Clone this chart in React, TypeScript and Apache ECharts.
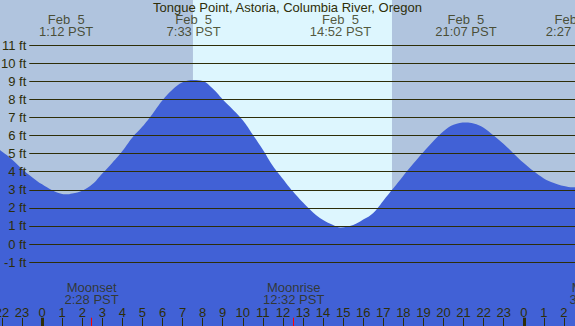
import { useEffect, useRef } from "react";
import * as echarts from "echarts";

// ---- data ----
const TITLE = "Tongue Point, Astoria, Columbia River, Oregon";

// tide height (ft) against hours since Feb 5 00:00 PST
const tideHours = [
  -2.1, -1.5, -1, -0.5, 0, 0.5, 1, 1.2, 1.5, 2, 2.5, 3, 3.5, 4, 4.5, 5, 5.5, 6,
  6.5, 7, 7.55, 8, 8.5, 9, 9.5, 10, 10.5, 11, 11.5, 12, 12.5, 13, 13.5, 14,
  14.5, 14.87, 15.5, 16, 16.5, 17, 17.5, 18, 18.5, 19, 19.5, 20, 20.5, 21.12,
  21.5, 22, 22.5, 23, 23.5, 24, 24.5, 25, 25.5, 26, 26.45, 26.6,
];
const tideFeet = [
  5.2, 4.68, 4.15, 3.7, 3.3, 2.98, 2.77, 2.75, 2.8, 2.95, 3.3, 3.9, 4.5, 5.15,
  5.9, 6.5, 7.2, 7.95, 8.55, 8.95, 9.08, 9.02, 8.6, 8.0, 7.45, 6.85, 6.05,
  5.22, 4.32, 3.6, 2.9, 2.29, 1.75, 1.33, 1.05, 0.92, 1.05, 1.35, 1.72, 2.4,
  3.08, 3.78, 4.45, 5.09, 5.7, 6.24, 6.6, 6.73, 6.67, 6.44, 6.0, 5.53, 5.0,
  4.48, 4.02, 3.63, 3.38, 3.21, 3.14, 3.15,
];

// high / low water labels
const extremeDates = ["Feb  5", "Feb  5", "Feb  5", "Feb  5", "Feb  6"];
const extremeTimes = ["1:12", "7:33", "14:52", "21:07", "2:27"];
const extremeDayOffset = [0, 0, 0, 0, 1];

// moon events
const moonEvents = ["Moonset", "Moonrise", "Moonset"];
const moonTimes = ["2:28", "12:32", "3:38"];
const moonDayOffset = [0, 0, 1];

// daylight
const sunriseTime = "7:31";
const sunsetTime = "17:26";

// gridline levels (ft)
const feetTicks = { min: -1, max: 11, step: 1 };
// hour ticks shown along the bottom
const hourTickValues = [
  -2, -1, 0, 1, 2, 3, 4, 5, 6, 7, 8, 9, 10, 11, 12, 13, 14, 15, 16, 17, 18, 19,
  20, 21, 22, 23, 24, 25, 26,
];
const midnightHours = [0, 24];

// ---- styles / layout ----
const NIGHT = "#b0c4de";
const DAY = "#ddf6fe";
const WATER = "#4161d6";
const INK = "#2e2e08";
const FONT = "'Liberation Sans', Arial, sans-serif";
const FS = 13;

const W = 575;
const H = 326;
const PX_PER_FT = 18.07;
const ZERO_FT_Y = 244;
const PX_PER_HOUR = 20.07;
const ZERO_HOUR_X = 42.1;
const Y_MAX = ZERO_FT_Y / PX_PER_FT;
const Y_MIN = -(H - ZERO_FT_Y) / PX_PER_FT;
const X_MIN = -ZERO_HOUR_X / PX_PER_HOUR;
const X_MAX = (W - ZERO_HOUR_X) / PX_PER_HOUR;
const EXTREME_LABEL_FT = (ZERO_FT_Y - 25.5) / PX_PER_FT;
const MOON_LABEL_FT = (ZERO_FT_Y - 293.5) / PX_PER_FT;
const TICK_TOP_FT = (ZERO_FT_Y - 317.7) / PX_PER_FT;

const toHour = (t: string, off: number) => {
  const [h, m] = t.split(":").map(Number);
  return off * 24 + h + m / 60;
};

export default function App() {
  const ref = useRef<HTMLDivElement>(null);
  useEffect(() => {
    if (!ref.current) return;
    const chart = echarts.init(ref.current, undefined, { renderer: "svg" });
    const tide = tideHours.map((h, i) => [h, tideFeet[i]]);
    const textBase = { fontFamily: FONT, fontSize: FS, color: INK };

    const labelData: any[] = [];
    extremeTimes.forEach((t, i) => {
      labelData.push({
        value: [toHour(t, extremeDayOffset[i]), EXTREME_LABEL_FT],
        label: { formatter: `${extremeDates[i]}\n${t} PST` },
      });
    });
    moonTimes.forEach((t, i) => {
      labelData.push({
        value: [toHour(t, moonDayOffset[i]), MOON_LABEL_FT],
        label: { formatter: `${moonEvents[i]}\n${t} PST` },
      });
    });

    const tickLines: any[] = [];
    midnightHours.forEach((h) => {
      tickLines.push([
        { coord: [h, Y_MIN], lineStyle: { color: INK, width: 3, type: "solid" } },
        { coord: [h, TICK_TOP_FT] },
      ]);
    });
    moonTimes.forEach((t, i) => {
      const h = toHour(t, moonDayOffset[i]);
      if (h > X_MAX) return;
      tickLines.push([
        { coord: [h, Y_MIN], lineStyle: { color: "#ff0000", width: 1, type: "solid" } },
        { coord: [h, TICK_TOP_FT] },
      ]);
    });

    const g2Top = ZERO_FT_Y - feetTicks.max * PX_PER_FT;
    const g2Bottom = H - (ZERO_FT_Y - feetTicks.min * PX_PER_FT);

    chart.setOption({
      animation: false,
      backgroundColor: NIGHT,
      title: {
        text: TITLE,
        left: "center",
        top: 0,
        padding: [1, 0, 0, 0],
        textStyle: { ...textBase, fontWeight: "normal", lineHeight: 13 },
      },
      grid: [
        { left: 0, right: 0, top: 0, bottom: 0, outerBoundsMode: "none", containLabel: false },
        {
          left: 29.3,
          right: 0,
          top: g2Top,
          bottom: g2Bottom,
          outerBoundsMode: "none",
          containLabel: false,
        },
      ],
      xAxis: [
        {
          gridIndex: 0,
          type: "value",
          min: X_MIN,
          max: X_MAX,
          z: 4,
          axisLine: { show: false, onZero: false },
          axisTick: {
            show: true,
            inside: true,
            length: 8,
            customValues: hourTickValues,
            lineStyle: { color: INK, width: 1 },
          },
          axisLabel: {
            inside: true,
            margin: 7,
            customValues: hourTickValues,
            ...textBase,
            formatter: (v: number) => String(((Math.round(v) % 24) + 24) % 24),
          },
          splitLine: { show: false },
        },
        { gridIndex: 1, type: "value", min: 0, max: 1, show: false },
      ],
      yAxis: [
        { gridIndex: 0, type: "value", min: Y_MIN, max: Y_MAX, show: false },
        {
          gridIndex: 1,
          type: "value",
          min: feetTicks.min,
          max: feetTicks.max,
          interval: feetTicks.step,
          z: 3,
          axisLine: { show: false },
          axisTick: { show: false },
          axisLabel: { margin: 3, ...textBase, formatter: (v: number) => `${v} ft` },
          splitLine: { show: true, lineStyle: { color: INK, width: 1 } },
        },
      ],
      series: [
        {
          type: "line",
          xAxisIndex: 0,
          yAxisIndex: 0,
          data: tide,
          showSymbol: false,
          lineStyle: { width: 0, opacity: 0 },
          z: 1,
          silent: true,
          markArea: {
            silent: true,
            itemStyle: { color: DAY },
            data: [[{ xAxis: toHour(sunriseTime, 0) }, { xAxis: toHour(sunsetTime, 0) }]],
          },
        },
        {
          type: "line",
          xAxisIndex: 0,
          yAxisIndex: 0,
          data: tide,
          smooth: 0.4,
          showSymbol: false,
          lineStyle: { width: 0 },
          areaStyle: { color: WATER, opacity: 1, origin: "start" },
          z: 2,
          silent: true,
        },
        {
          type: "line",
          xAxisIndex: 0,
          yAxisIndex: 0,
          data: tide,
          showSymbol: false,
          lineStyle: { width: 0, opacity: 0 },
          z: 5,
          silent: true,
          markLine: {
            silent: true,
            symbol: ["none", "none"],
            label: { show: false },
            data: tickLines,
          },
        },
        {
          type: "scatter",
          xAxisIndex: 0,
          yAxisIndex: 0,
          data: labelData,
          symbolSize: 1,
          itemStyle: { color: "rgba(0,0,0,0)" },
          clip: false,
          z: 6,
          silent: true,
          label: {
            show: true,
            position: "inside",
            align: "center",
            verticalAlign: "middle",
            lineHeight: 12,
            ...textBase,
          },
        },
      ],
    });
    return () => chart.dispose();
  }, []);
  return (
    <div
      ref={ref}
      style={{ position: "absolute", left: 0, top: 0, width: W, height: H }}
    />
  );
}
